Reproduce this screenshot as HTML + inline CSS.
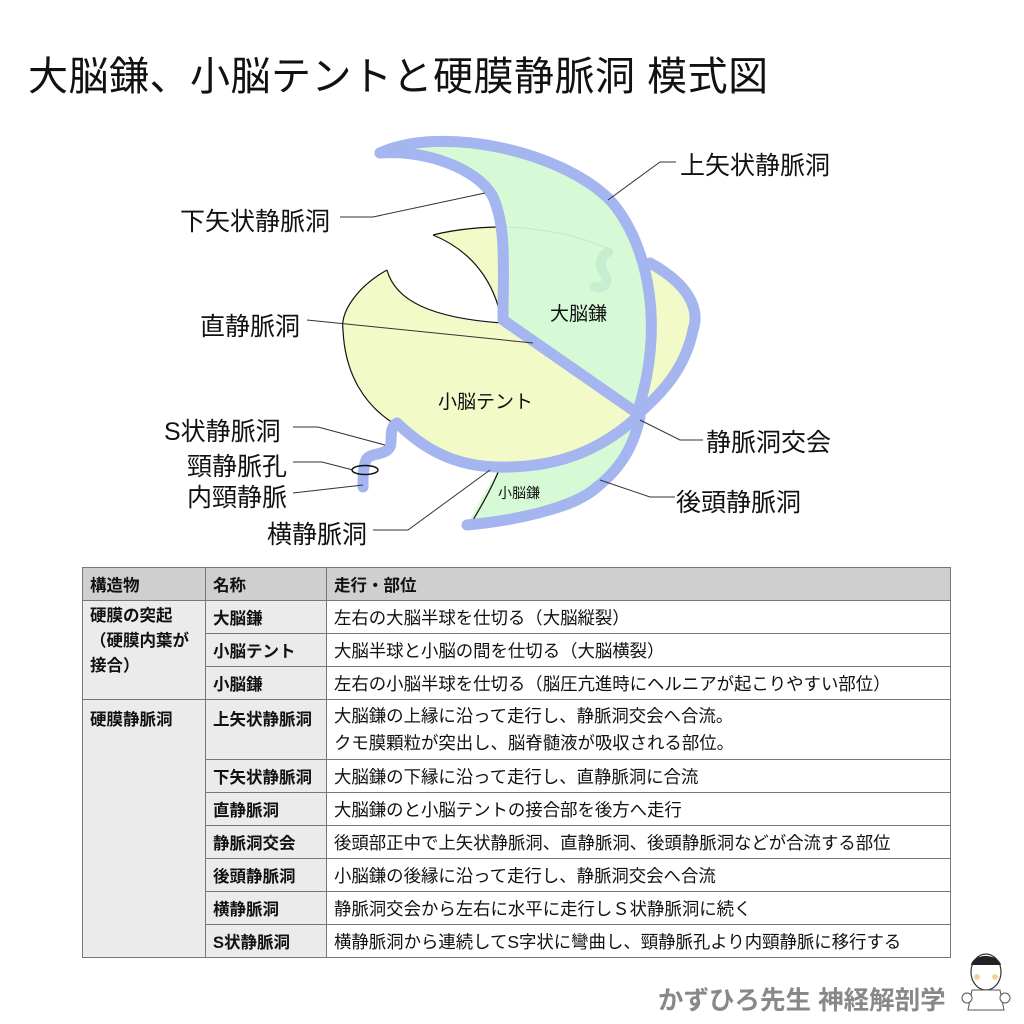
<!DOCTYPE html>
<html><head><meta charset="utf-8"><style>
body{margin:0;background:#fff;width:1024px;height:1024px;overflow:hidden;position:relative;font-family:"Liberation Sans","Noto Sans CJK JP",sans-serif;color:#111}
.t{position:absolute;white-space:nowrap}
.l{font-size:25px}
table{position:absolute;left:82px;top:567px;border-collapse:collapse;font-size:17.4px;table-layout:fixed;width:868px}
td{border:1px solid #777;padding:0 7px;height:32px;vertical-align:middle;white-space:nowrap;overflow:hidden}
td.h{background:#cfcfcf;font-weight:bold;font-size:16.5px}
td.g{background:#ebebeb;font-weight:bold;font-size:16.5px}
td.w{background:#fff}
</style></head><body>
<div class="t" style="left:28px;top:44px;font-size:40px;letter-spacing:0.5px">大脳鎌、小脳テントと硬膜静脈洞 模式図</div>
<svg width="1024" height="560" style="position:absolute;left:0;top:0">
<path d="M387,270 C360,285 340,310 343,330 C345,375 365,405 393,423 C425,450 455,466 497,467 C540,468 590,460 637,417 C660,395 690,360 693,330 C700,310 690,285 650,263 C600,240 540,228 500,227 C470,227 445,230 433,235 C470,250 495,280 502,323 C430,320 400,300 387,270 Z" fill="#f2fbc8"/>
<path d="M387,270 C360,285 340,310 343,330 C345,375 365,405 393,423" fill="none" stroke="#111" stroke-width="1.2"/>
<path d="M387,270 C395,300 430,318 502,323" fill="none" stroke="#111" stroke-width="1.2"/>
<path d="M433,235 C470,250 495,280 502,323" fill="none" stroke="#111" stroke-width="1.2"/>
<path d="M433,235 C460,228 490,227 500,227" fill="none" stroke="#111" stroke-width="1.2"/>
<path d="M380,153 C440,125 560,150 610,200 C650,245 665,330 637,413 L503,320 C503,270 507,225 492,195 C477,170 430,150 380,153 Z" fill="#d7fad6"/>
<path d="M505,227 C540,228 580,235 610,250" fill="none" stroke="#bfe8c8" stroke-width="1"/>
<path d="M608,252 C598,258 600,268 605,275 C610,285 600,290 595,287" fill="none" stroke="#c7eed0" stroke-width="10" stroke-linecap="round"/>
<path d="M467,525 C480,500 490,485 498,470 C540,468 590,460 637,418 C625,465 605,495 570,510 C535,520 500,524 467,525 Z" fill="#d7fad6"/>
<path d="M473,520 C485,500 493,485 499,470" fill="none" stroke="#111" stroke-width="1.2"/>
<g fill="none" stroke="#a4b5ef" stroke-width="11" stroke-linecap="round" stroke-linejoin="round">
<path d="M380,153 C440,125 560,150 610,200 C650,245 665,330 637,413"/>
<path d="M380,153 C430,150 477,170 492,195 C507,225 503,270 503,320 L637,413"/>
<path d="M650,263 C690,285 700,310 693,330 C685,370 660,395 637,415"/>
<path d="M397,423 C425,450 455,466 497,467 C540,468 590,460 637,417"/>
<path d="M467,525 C520,520 575,507 597,487 C625,465 635,440 640,417"/>
<path d="M397,423 C388,428 393,440 390,447 C385,456 370,452 366,460 C363,468 363,478 363,487"/>
</g>
<ellipse cx="365" cy="470" rx="13" ry="4.5" fill="none" stroke="#111" stroke-width="1.5"/>
<g fill="none" stroke="#333" stroke-width="1">
<polyline points="608,200 660,162 676,162"/>
<polyline points="340,217 373,217 485,193"/>
<polyline points="307,320 533,343"/>
<polyline points="293,427 318,427 385,445"/>
<polyline points="293,462 322,462 353,470"/>
<polyline points="293,493 363,485"/>
<polyline points="373,530 408,530 490,470"/>
<polyline points="640,420 680,440 703,440"/>
<polyline points="600,480 650,497 675,497"/>
</g>
</svg>
<div class="t l" style="left:680px;top:146px">上矢状静脈洞</div>
<div class="t l" style="left:180px;top:202px">下矢状静脈洞</div>
<div class="t l" style="left:200px;top:307px">直静脈洞</div>
<div class="t l" style="left:164px;top:412px">S状静脈洞</div>
<div class="t l" style="left:187px;top:447px">頸静脈孔</div>
<div class="t l" style="left:187px;top:478px">内頸静脈</div>
<div class="t l" style="left:267px;top:515px">横静脈洞</div>
<div class="t l" style="left:706px;top:423px">静脈洞交会</div>
<div class="t l" style="left:676px;top:483px">後頭静脈洞</div>
<div class="t" style="left:550px;top:299px;font-size:19px">大脳鎌</div>
<div class="t" style="left:438px;top:387px;font-size:19px">小脳テント</div>
<div class="t" style="left:498px;top:483px;font-size:14px">小脳鎌</div>
<table>
<colgroup><col style="width:123px"><col style="width:121px"><col style="width:624px"></colgroup>
<tr><td class="h">構造物</td><td class="h">名称</td><td class="h">走行・部位</td></tr>
<tr><td class="g" rowspan="3" style="vertical-align:top;line-height:25px;padding-top:3px">硬膜の突起<br>（硬膜内葉が<br>接合）</td><td class="g">大脳鎌</td><td class="w">左右の大脳半球を仕切る（大脳縦裂）</td></tr>
<tr><td class="g">小脳テント</td><td class="w">大脳半球と小脳の間を仕切る（大脳横裂）</td></tr>
<tr><td class="g">小脳鎌</td><td class="w">左右の小脳半球を仕切る（脳圧亢進時にヘルニアが起こりやすい部位）</td></tr>
<tr><td class="g" rowspan="8" style="vertical-align:top;padding-top:6px">硬膜静脈洞</td><td class="g" style="vertical-align:top;padding-top:6px;height:53px">上矢状静脈洞</td><td class="w" style="line-height:27px">大脳鎌の上縁に沿って走行し、静脈洞交会へ合流。<br>クモ膜顆粒が突出し、脳脊髄液が吸収される部位。</td></tr>
<tr><td class="g">下矢状静脈洞</td><td class="w">大脳鎌の下縁に沿って走行し、直静脈洞に合流</td></tr>
<tr><td class="g">直静脈洞</td><td class="w">大脳鎌のと小脳テントの接合部を後方へ走行</td></tr>
<tr><td class="g">静脈洞交会</td><td class="w">後頭部正中で上矢状静脈洞、直静脈洞、後頭静脈洞などが合流する部位</td></tr>
<tr><td class="g">後頭静脈洞</td><td class="w">小脳鎌の後縁に沿って走行し、静脈洞交会へ合流</td></tr>
<tr><td class="g">横静脈洞</td><td class="w">静脈洞交会から左右に水平に走行しＳ状静脈洞に続く</td></tr>
<tr><td class="g">S状静脈洞</td><td class="w">横静脈洞から連続してS字状に彎曲し、頸静脈孔より内頸静脈に移行する</td></tr>
</table>
<div class="t" style="left:658px;top:980px;font-size:25.5px;font-weight:bold;color:#888">かずひろ先生 神経解剖学</div>
<svg width="60" height="70" style="position:absolute;left:958px;top:950px">
<ellipse cx="28" cy="22" rx="15" ry="18" fill="#fff" stroke="#333" stroke-width="1.2"/>
<path d="M13,15 C15,3 40,3 43,15" fill="#222"/>
<circle cx="19" cy="27" r="3" fill="#f3d2a0"/><circle cx="37" cy="27" r="3" fill="#f3d2a0"/>
<path d="M14,40 L10,60 L46,60 L42,40 Z" fill="#fff" stroke="#555"/>
<circle cx="9" cy="48" r="5" fill="#fff" stroke="#555"/><circle cx="47" cy="48" r="5" fill="#fff" stroke="#555"/>
</svg>
</body></html>
